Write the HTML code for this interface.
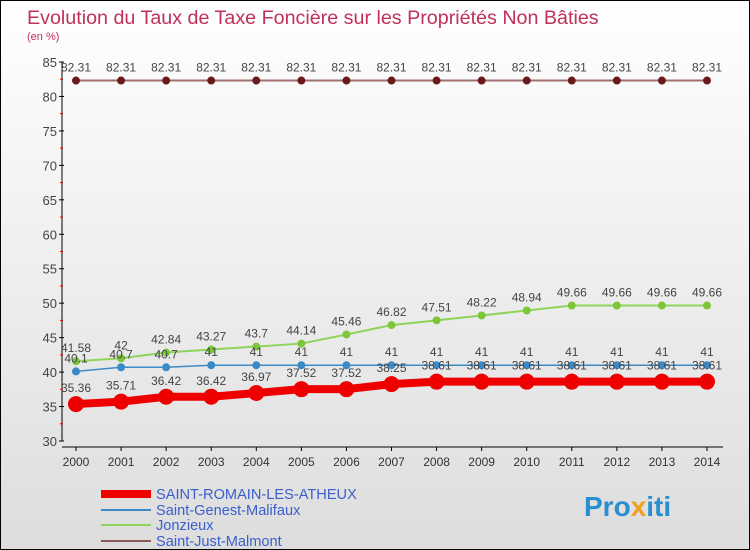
<!DOCTYPE html>
<html><head><meta charset="utf-8"><style>
body{margin:0}
#c{position:relative;width:750px;height:550px;box-sizing:border-box;border:1px solid #000;background:linear-gradient(#fff,#ddd);font-family:"Liberation Sans",sans-serif;overflow:hidden}
svg text{font-family:"Liberation Sans",sans-serif}
</style></head><body>
<div id="c">
<svg id="s" width="750" height="550">
<text x="26" y="23" font-size="19.7" fill="#c0305a">Evolution du Taux de Taxe Foncière sur les Propriétés Non Bâties</text>
<text x="26" y="39" font-size="11" fill="#c0305a">(en %)</text>
<g id="g"></g>
<g>
<line x1="100" y1="493" x2="150" y2="493" stroke="#e00" stroke-width="8"/>
<text x="155" y="498" font-size="14.6" fill="#3a5fcd">SAINT-ROMAIN-LES-ATHEUX</text>
<line x1="100" y1="509" x2="150" y2="509" stroke="#3a8ac8" stroke-width="2"/>
<text x="155" y="514" font-size="14.6" fill="#3a5fcd">Saint-Genest-Malifaux</text>
<line x1="100" y1="524" x2="150" y2="524" stroke="#8fd45a" stroke-width="2"/>
<text x="155" y="529" font-size="14.6" fill="#3a5fcd">Jonzieux</text>
<line x1="100" y1="540" x2="150" y2="540" stroke="#8a5a5a" stroke-width="2"/>
<text x="155" y="545" font-size="14.6" fill="#3a5fcd">Saint-Just-Malmont</text>
</g>
<text x="583" y="515" font-size="28" font-weight="bold" fill="#2a8fd0">Pro<tspan fill="#f0a020">x</tspan>iti</text>
</svg>
</div>
<script>
const years=[2000,2001,2002,2003,2004,2005,2006,2007,2008,2009,2010,2011,2012,2013,2014];
const yTicks=[30,35,40,45,50,55,60,65,70,75,80,85];
const saintRomain=[35.36,35.71,36.42,36.42,36.97,37.52,37.52,38.25,38.61,38.61,38.61,38.61,38.61,38.61,38.61];
const saintGenest=[40.1,40.7,40.7,41,41,41,41,41,41,41,41,41,41,41,41];
const jonzieux=[41.58,42,42.84,43.27,43.7,44.14,45.46,46.82,47.51,48.22,48.94,49.66,49.66,49.66,49.66];
const saintJust=[82.31,82.31,82.31,82.31,82.31,82.31,82.31,82.31,82.31,82.31,82.31,82.31,82.31,82.31,82.31];
const NS="http://www.w3.org/2000/svg";
const g=document.getElementById('g');
const X=i=>75+i*(706-75)/(years.length-1);
const Y=v=>440-(v-30)*(440-61)/55;
function mk(t,a,p){const e=document.createElementNS(NS,t);for(const k in a)e.setAttribute(k,a[k]);(p||g).appendChild(e);return e;}
let ax=mk('line',{x1:61,y1:61,x2:61,y2:440,stroke:'#000'});


let bx=mk('line',{x1:61,y1:446,x2:722,y2:446,stroke:'#000'});


yTicks.forEach(v=>{
 const y=Y(v);
 mk('line',{x1:58,y1:y,x2:63,y2:y,stroke:'#000'});
 if(v<85){mk('line',{x1:59,y1:Y(v+2.5),x2:62,y2:Y(v+2.5),stroke:'#e00'});}
 const t=mk('text',{x:56,y:y+5,'font-size':13,fill:'#444','text-anchor':'end'});t.textContent=v;
 
 
});
years.forEach((yr,i)=>{
 mk('line',{x1:X(i),y1:446,x2:X(i),y2:450,stroke:'#000'});
 const t=mk('text',{x:X(i),y:465,'font-size':12,fill:'#333','text-anchor':'middle'});t.textContent=yr;
 
 
});
function series(data,color,lw,r,name,dot,labOff){
 const grp=mk('g',{});
 
 
 mk('polyline',{points:data.map((v,i)=>X(i)+','+Y(v)).join(' '),fill:'none',stroke:color,'stroke-width':lw},grp);
 data.forEach((v,i)=>{
  const c=mk('circle',{cx:X(i),cy:Y(v),r:r,fill:dot},grp);
  
  
  const t=mk('text',{x:X(i),y:Y(v)+labOff,'font-size':12,fill:'#444','text-anchor':'middle'},grp);
  t.textContent=String(v);
  
  
 });
}
series(saintJust,'#a07070',2,4,'saint-just','#6a1a1a',-9);
series(jonzieux,'#8fd45a',2,4,'jonzieux','#7cc63a',-9);
series(saintGenest,'#3a8ac8',1.5,4,'saint-genest','#3a8ac8',-9);
series(saintRomain,'#e00',8,8,'saint-romain','#e00',-12);
</script>
</body></html>
